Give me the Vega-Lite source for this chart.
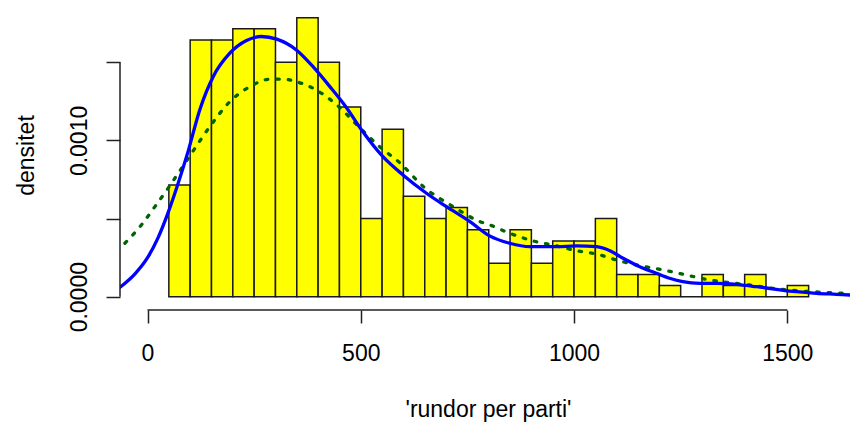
{
  "$schema": "https://vega.github.io/schema/vega-lite/v6.json",
  "width": 730,
  "height": 310,
  "autosize": "none",
  "padding": {"left": 120, "top": 0, "right": 0, "bottom": 113},
  "background": "white",
  "config": {
    "view": {"stroke": null},
    "font": "Liberation Sans",
    "axis": {"grid": false, "domain": false, "tickColor": "#222222", "tickWidth": 1.5, "labelColor": "black", "titleColor": "black", "labelFontSize": 23, "titleFontSize": 23, "titleFontWeight": "normal", "labelOverlap": false, "labelFlush": false, "labelBound": false}
  },
  "datasets": {
    "bars": [
      {"start": 50, "end": 100, "density": 0.000714286},
      {"start": 100, "end": 150, "density": 0.001642857},
      {"start": 150, "end": 200, "density": 0.001642857},
      {"start": 200, "end": 250, "density": 0.001714286},
      {"start": 250, "end": 300, "density": 0.001714286},
      {"start": 300, "end": 350, "density": 0.0015},
      {"start": 350, "end": 400, "density": 0.001785714},
      {"start": 400, "end": 450, "density": 0.0015},
      {"start": 450, "end": 500, "density": 0.001214286},
      {"start": 500, "end": 550, "density": 0.0005},
      {"start": 550, "end": 600, "density": 0.001071429},
      {"start": 600, "end": 650, "density": 0.000642857},
      {"start": 650, "end": 700, "density": 0.0005},
      {"start": 700, "end": 750, "density": 0.000571429},
      {"start": 750, "end": 800, "density": 0.000428571},
      {"start": 800, "end": 850, "density": 0.000214286},
      {"start": 850, "end": 900, "density": 0.000428571},
      {"start": 900, "end": 950, "density": 0.000214286},
      {"start": 950, "end": 1000, "density": 0.000357143},
      {"start": 1000, "end": 1050, "density": 0.000357143},
      {"start": 1050, "end": 1100, "density": 0.0005},
      {"start": 1100, "end": 1150, "density": 0.000142857},
      {"start": 1150, "end": 1200, "density": 0.000142857},
      {"start": 1200, "end": 1250, "density": 0.0000714286},
      {"start": 1250, "end": 1300, "density": 0},
      {"start": 1300, "end": 1350, "density": 0.000142857},
      {"start": 1350, "end": 1400, "density": 0.0000714286},
      {"start": 1400, "end": 1450, "density": 0.000142857},
      {"start": 1450, "end": 1500, "density": 0},
      {"start": 1500, "end": 1550, "density": 0.0000714286}
    ],
    "kde": [
      {"x": -64.5, "y": 0.0000602}, {"x": -29.3, "y": 0.0001465}, {"x": 1.2, "y": 0.0002547}, {"x": 24.6, "y": 0.0003763},
      {"x": 48.1, "y": 0.0005363}, {"x": 69.2, "y": 0.0007033}, {"x": 95, "y": 0.0009285},
      {"x": 123, "y": 0.001200}, {"x": 154, "y": 0.001408}, {"x": 193, "y": 0.001558}, {"x": 232, "y": 0.001639},
      {"x": 267, "y": 0.001665}, {"x": 303, "y": 0.001648}, {"x": 349, "y": 0.001579}, {"x": 388, "y": 0.001472},
      {"x": 428, "y": 0.001343}, {"x": 467, "y": 0.001208}, {"x": 502, "y": 0.001067}, {"x": 552, "y": 0.000896},
      {"x": 599, "y": 0.000779}, {"x": 654, "y": 0.000662}, {"x": 701, "y": 0.000576}, {"x": 756, "y": 0.000480},
      {"x": 802, "y": 0.000389}, {"x": 849, "y": 0.000342}, {"x": 896, "y": 0.000320}, {"x": 959, "y": 0.000320},
      {"x": 1006, "y": 0.000325}, {"x": 1053, "y": 0.000320}, {"x": 1084, "y": 0.000294}, {"x": 1115, "y": 0.000246},
      {"x": 1154, "y": 0.000192}, {"x": 1193, "y": 0.000150}, {"x": 1224, "y": 0.000118}, {"x": 1255, "y": 0.000096},
      {"x": 1295, "y": 0.0000858}, {"x": 1334, "y": 0.0000858}, {"x": 1381, "y": 0.0000794}, {"x": 1428, "y": 0.000064},
      {"x": 1474, "y": 0.0000474}, {"x": 1521, "y": 0.000032}, {"x": 1568, "y": 0.0000218}, {"x": 1615, "y": 0.0000154},
      {"x": 1647, "y": 0.0000109}
    ],
    "fit": [
      {"x": -53, "y": 0.000342}, {"x": -14, "y": 0.000460}, {"x": 17, "y": 0.000575}, {"x": 48.5, "y": 0.000695},
      {"x": 72, "y": 0.000790}, {"x": 99, "y": 0.000900}, {"x": 146, "y": 0.001088}, {"x": 193, "y": 0.001248},
      {"x": 240, "y": 0.001344}, {"x": 287, "y": 0.001392}, {"x": 318, "y": 0.001392}, {"x": 349, "y": 0.001376},
      {"x": 388, "y": 0.001334}, {"x": 444, "y": 0.001227}, {"x": 498, "y": 0.001080}, {"x": 545, "y": 0.000958},
      {"x": 592, "y": 0.000856}, {"x": 647, "y": 0.000704}, {"x": 717, "y": 0.000576}, {"x": 780, "y": 0.000480},
      {"x": 803, "y": 0.000459}, {"x": 849, "y": 0.000406}, {"x": 904, "y": 0.000357}, {"x": 959, "y": 0.000325},
      {"x": 1006, "y": 0.000294}, {"x": 1053, "y": 0.000273}, {"x": 1099, "y": 0.000235}, {"x": 1146, "y": 0.000203},
      {"x": 1209, "y": 0.000171}, {"x": 1263, "y": 0.000139}, {"x": 1310, "y": 0.000111}, {"x": 1365, "y": 0.0000896},
      {"x": 1412, "y": 0.0000749}, {"x": 1466, "y": 0.0000538}, {"x": 1521, "y": 0.0000384}, {"x": 1584, "y": 0.0000282},
      {"x": 1638, "y": 0.0000218}
    ],
    "one": [{}]
  },
  "layer": [
    {
      "data": {"name": "bars"},
      "mark": {"type": "rect", "fill": "#FFFF00", "stroke": "#1a1a1a", "strokeWidth": 1.5},
      "encoding": {
        "x": {"field": "start", "type": "quantitative", "scale": {"domain": [-64.5, 1647], "nice": false, "zero": false},
          "axis": {"title": "'rundor per parti'", "values": [0, 500, 1000, 1500], "format": "d", "tickSize": 13, "labelPadding": 19.5, "titleBaseline": "alphabetic", "titleY": 106.5, "titleX": 368, "titleAlign": "center"}},
        "x2": {"field": "end"},
        "y": {"field": "density", "type": "quantitative", "scale": {"domain": [-0.0000851, 0.0018987], "nice": false, "zero": false},
          "axis": {"title": "densitet", "values": [0, 0.0005, 0.001, 0.0015], "labelExpr": "datum.value == 0 || datum.value == 0.001 ? format(datum.value, '.4f') : ''", "labelAngle": 270, "labelAlign": "center", "labelBaseline": "alphabetic", "tickSize": 14, "labelPadding": 20, "titleAngle": 270, "titleX": -87, "titleY": 155, "titleBaseline": "alphabetic", "titleAlign": "center"}},
        "y2": {"datum": 0}
      }
    },
    {
      "data": {"name": "fit"},
      "mark": {"type": "line", "color": "#006400", "strokeWidth": 3.3, "strokeDash": [2.5, 9], "strokeCap": "round", "interpolate": "monotone", "clip": true},
      "encoding": {"x": {"field": "x", "type": "quantitative"}, "y": {"field": "y", "type": "quantitative"}}
    },
    {
      "data": {"name": "kde"},
      "mark": {"type": "line", "color": "#0000FF", "strokeWidth": 3.3, "strokeCap": "round", "interpolate": "monotone", "clip": true},
      "encoding": {"x": {"field": "x", "type": "quantitative"}, "y": {"field": "y", "type": "quantitative"}}
    },
    {
      "data": {"name": "one"},
      "mark": {"type": "rule", "color": "#222222", "strokeWidth": 1.5},
      "encoding": {"x": {"datum": 0, "type": "quantitative"}, "x2": {"datum": 1500}, "y": {"datum": -0.0000851, "type": "quantitative"}}
    },
    {
      "data": {"name": "one"},
      "mark": {"type": "rule", "color": "#222222", "strokeWidth": 1.5},
      "encoding": {"x": {"datum": -64.5, "type": "quantitative"}, "y": {"datum": 0, "type": "quantitative"}, "y2": {"datum": 0.0015}}
    }
  ]
}
